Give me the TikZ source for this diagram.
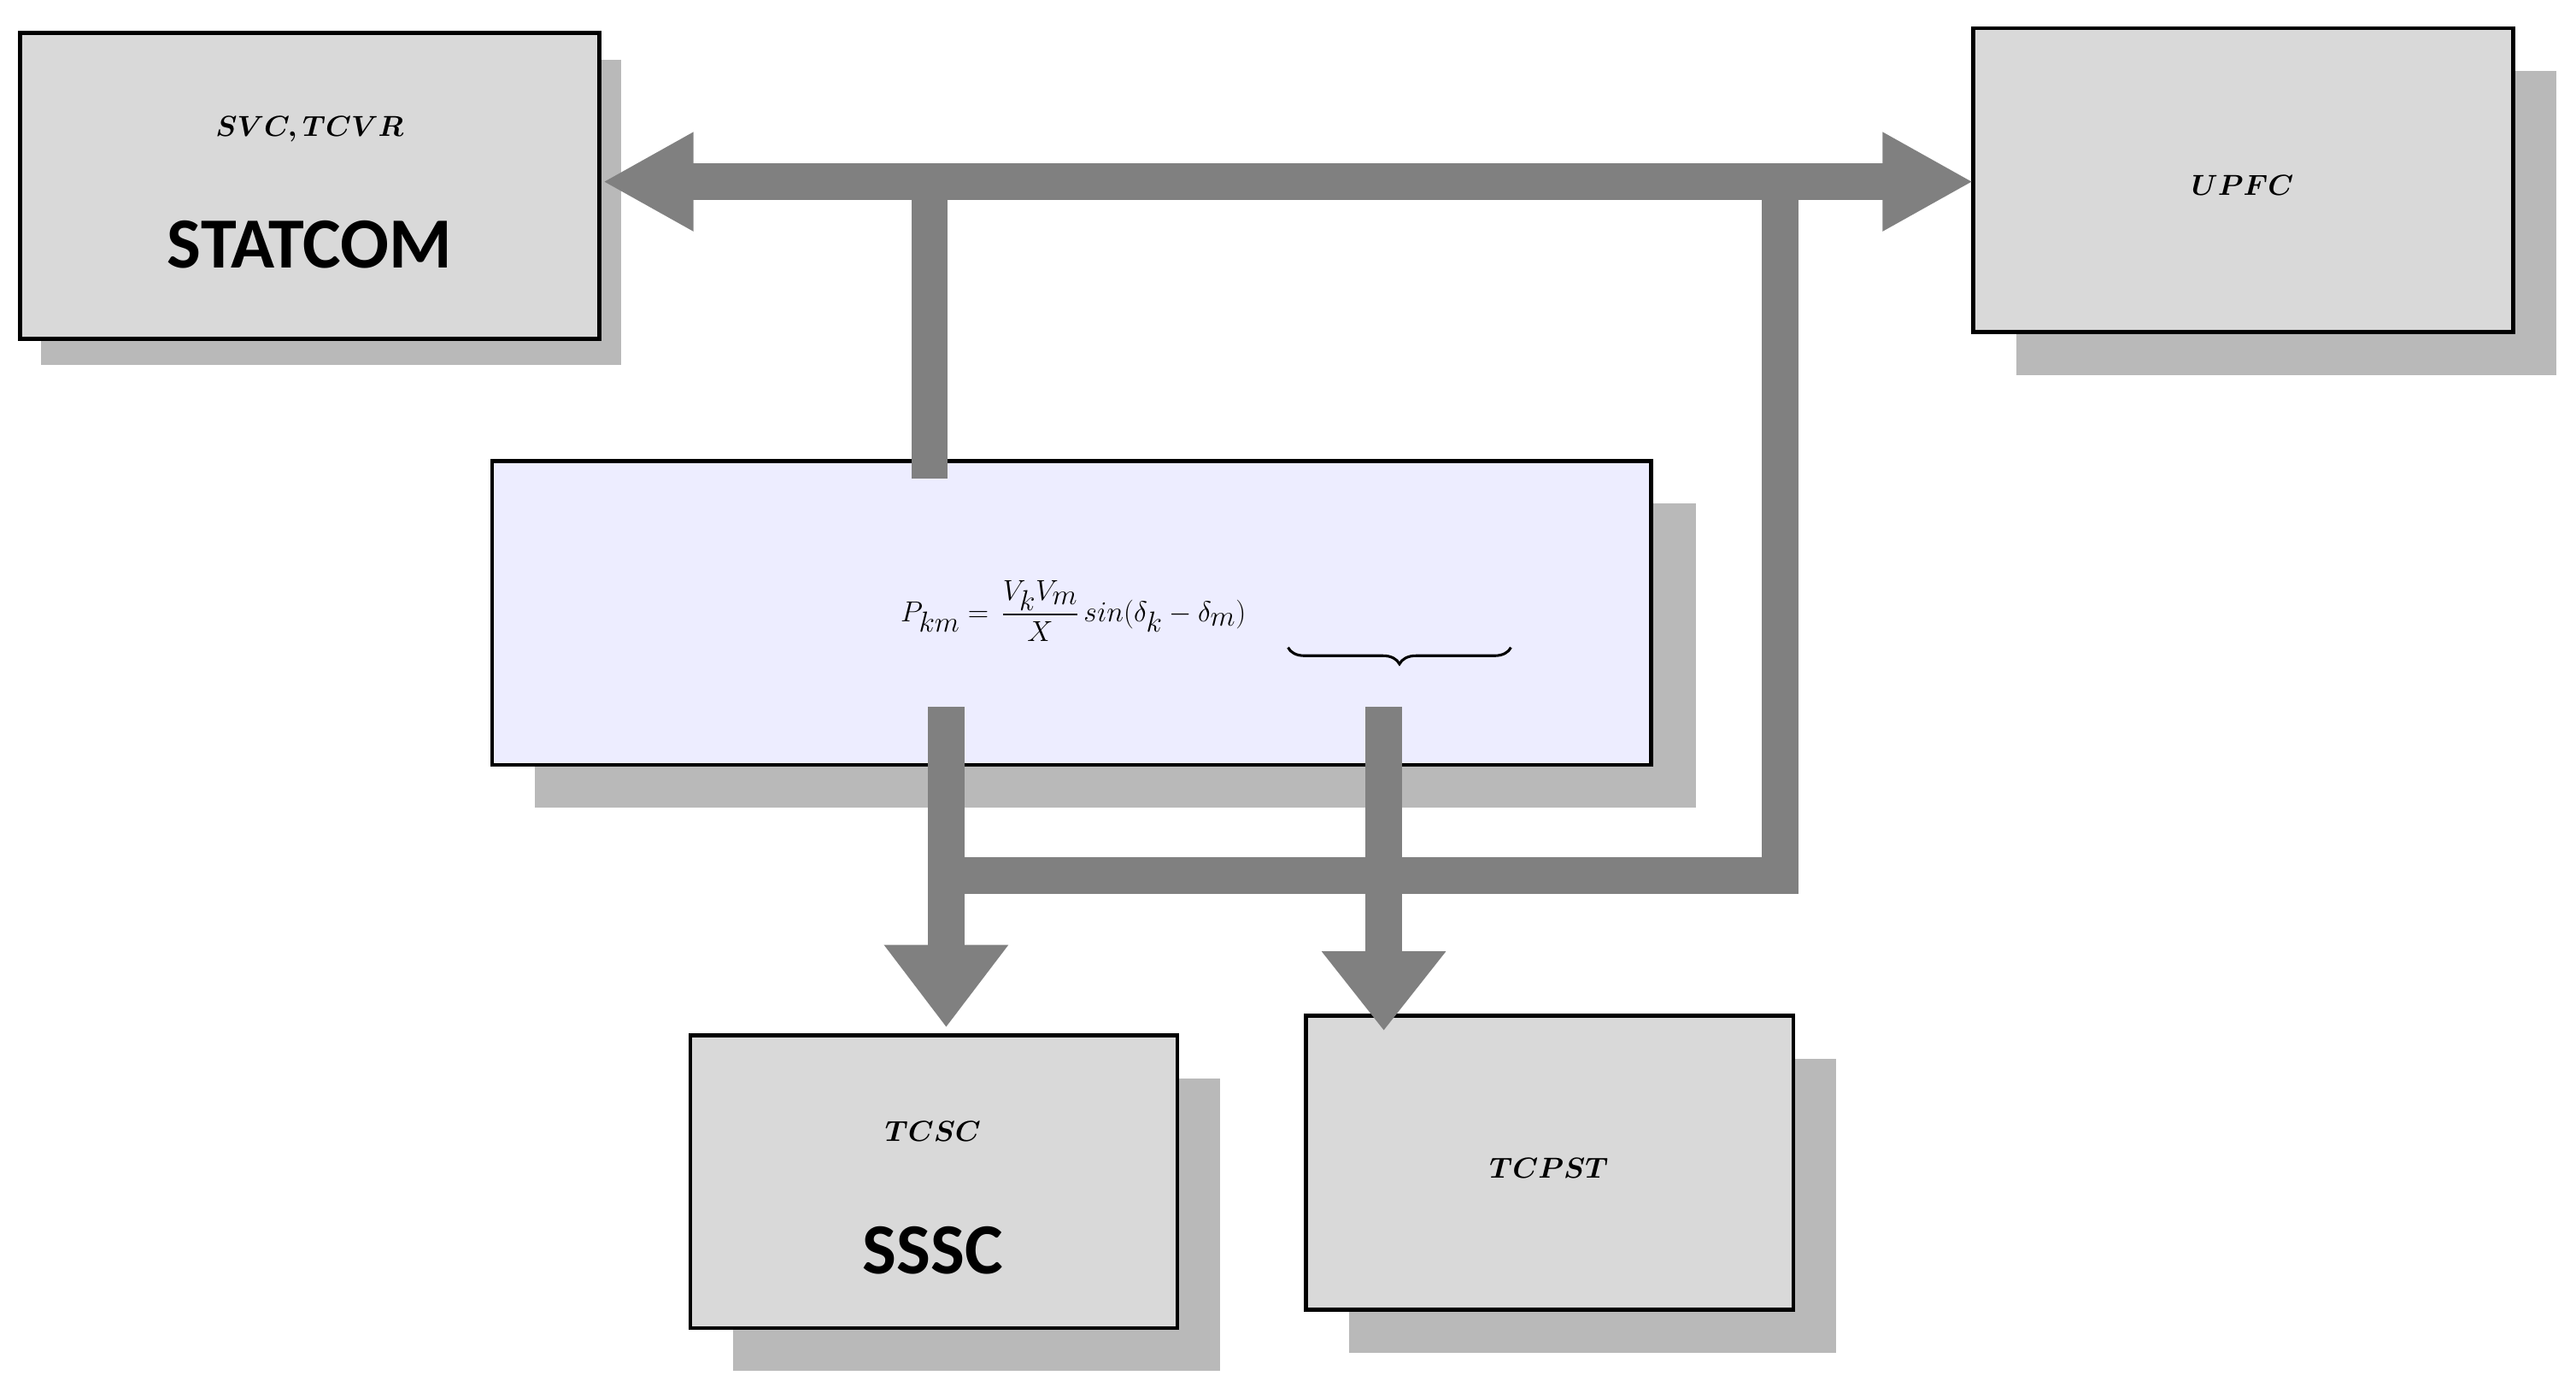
\documentclass[tikz,border=0pt]{standalone}
\usepackage{fontspec}
\setmainfont{Carlito}
\usepackage{amsmath}
\usetikzlibrary{arrows.meta,decorations.pathreplacing}
\begin{document}
\begin{tikzpicture}[x=0.5mm,y=-0.5mm,
 box/.style={draw=black,line width=1.2mm,fill=gray!30},
 shad/.style={fill=gray!55},
 lbl/.style={font=\fontsize{62}{74}\selectfont\bfseries}]
\useasboundingbox (0,0) rectangle (1560,847);
\colorlet{bargray}{black!50}
\tikzset{bar/.style={draw=bargray,line width=11mm}}
% shadows
\fill[shad] (25,36) rectangle (376,221);
\fill[shad] (1221,43) rectangle (1548,227);
\fill[shad] (324,305) rectangle (1027,489);
\fill[shad] (444,653) rectangle (739,830);
\fill[shad] (817,641) rectangle (1112,819);
% boxes
\draw[box] (12,20) rectangle (363,205);
\node (svc) at (187.5,112) {};
\node[lbl] at (187.5,78) {$\boldsymbol{SVC,TCVR}$};
\node[lbl] at (187.5,148) {STATCOM};
\draw[box] (1195,17) rectangle (1522,201);
\node[lbl] (upfc) at (1358,112) {$\boldsymbol{UPFC}$};
\draw[box,fill=blue!7!white] (298,279) rectangle (1000,463);
\node[font=\fontsize{80}{96}\selectfont] (f) at (650,370) {$P_{km}=\,\dfrac{V_kV_m}{X}\,sin(\delta_k-\delta_m)$};
\draw[decorate,decoration={brace,mirror,amplitude=5mm},line width=0.8mm] (780,392) -- (915,392);
\draw[box] (418,627) rectangle (713,804);
\node[lbl] at (565,685) {$\boldsymbol{TCSC}$};
\node[lbl] at (565,757) {SSSC};
\draw[box] (791,615) rectangle (1086,793);
\node[lbl] at (938,707) {$\boldsymbol{TCPST}$};
% connectors
\coordinate (s1) at (563,290);
\coordinate (s2) at (563,110);
\coordinate (v2) at (1078,541);
\coordinate (h1) at (575,530);
\coordinate (a1) at (573,428);
\coordinate (a2) at (838,428);
\coordinate (t1) at (573,622);
\coordinate (t2) at (838,624);
\draw[bar] (s1) -- (s2);
\draw[bar,-{Triangle[length=27.5mm,width=28mm]}] (640,110) -- (365,110);
\draw[bar,-{Triangle[length=27.5mm,width=28mm]}] (640,110) -- (1195,110);
\draw[bar] (1078,99) -- (v2);
\draw[bar] (h1) -- (1089,530);
\draw[bar,-{Triangle[length=25mm,width=36mm]}] (a1) -- (t1);
\draw[bar,-{Triangle[length=24mm,width=36mm]}] (a2) -- (t2);
\end{tikzpicture}
\end{document}
